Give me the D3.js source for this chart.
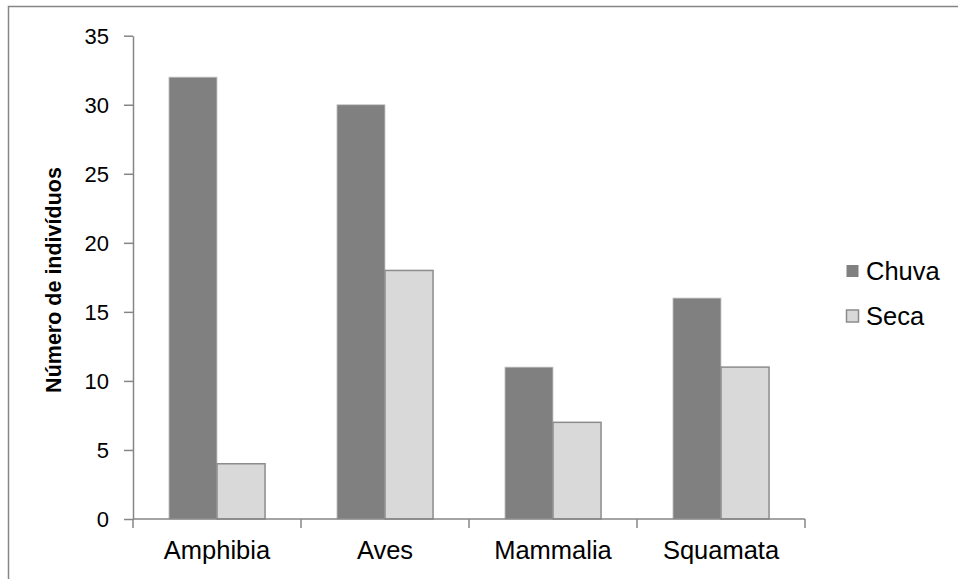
<!DOCTYPE html>
<html>
<head>
<meta charset="utf-8">
<script src="https://cdn.jsdelivr.net/npm/d3@7"></script>
<style>
  html, body { margin: 0; padding: 0; background: #fff; }
  svg { display: block; }
  text { font-family: "Liberation Sans", Arial, sans-serif; fill: #000; }
</style>
</head>
<body>
<svg id="chart" width="958" height="579"></svg>
<script>
// Number of individuals per taxonomic class, rainy vs dry season
const categories = ["Amphibia", "Aves", "Mammalia", "Squamata"];
const seriesNames = ["Chuva", "Seca"];
const chuva = [32, 30, 11, 16];
const seca = [4, 18, 7, 11];
const yTicks = [0, 5, 10, 15, 20, 25, 30, 35];
const colors = { Chuva: "#808080", Seca: "#d9d9d9" };

const svg = d3.select("#chart");
const axisColor = "#868686";

// outer frame
svg.append("rect")
  .attr("x", 8.5).attr("y", 6.5)
  .attr("width", 1000).attr("height", 1000)
  .attr("fill", "none").attr("stroke", axisColor).attr("stroke-width", 1.5);

const plot = { left: 133, right: 805, top: 35.7, bottom: 519 };

const x = d3.scaleBand().domain(categories).range([plot.left, plot.right]).paddingInner(0).paddingOuter(0);
const xInner = d3.scaleBand().domain(seriesNames).range([0, x.bandwidth()]).paddingInner(0).paddingOuter(0.748);
const y = d3.scaleLinear().domain([0, 35]).range([plot.bottom, plot.top]);

const rows = categories.map((c, i) => ({ cat: c, values: [
  { key: "Chuva", value: chuva[i] },
  { key: "Seca", value: seca[i] }
]}));

// bars
const groups = svg.append("g").selectAll("g").data(rows).join("g")
  .attr("transform", d => `translate(${x(d.cat)},0)`);
groups.selectAll("rect").data(d => d.values).join("rect")
  .attr("x", d => xInner(d.key))
  .attr("y", d => y(d.value))
  .attr("width", xInner.bandwidth())
  .attr("height", d => plot.bottom - y(d.value))
  .attr("fill", d => colors[d.key])
  .attr("stroke", d => d.key === "Seca" ? "#8c8c8c" : "#c8c8c8")
  .attr("stroke-width", d => d.key === "Seca" ? 1.5 : 0.8);

// y axis
const yAxis = svg.append("g").attr("transform", `translate(${plot.left},0)`)
  .call(d3.axisLeft(y).tickValues(yTicks).tickSize(9).tickPadding(15).tickSizeOuter(0));
yAxis.select(".domain").attr("stroke", axisColor).attr("stroke-width", 1.5);
yAxis.selectAll(".tick line").attr("stroke", axisColor).attr("stroke-width", 1.5);
yAxis.selectAll(".tick text").style("font-size", "22px").attr("font-family", null).attr("dy", "0.35em");

// x axis: ticks at category boundaries
const xAxisG = svg.append("g").attr("transform", `translate(0,${plot.bottom})`);
xAxisG.append("line")
  .attr("x1", plot.left).attr("x2", plot.right)
  .attr("stroke", axisColor).attr("stroke-width", 1.5);
const boundaries = categories.map(c => x(c)).concat([plot.right]);
xAxisG.selectAll("line.tk").data(boundaries).join("line").attr("class", "tk")
  .attr("x1", d => d).attr("x2", d => d).attr("y1", 0).attr("y2", 9)
  .attr("stroke", axisColor).attr("stroke-width", 1.5);
xAxisG.selectAll("text").data(categories).join("text")
  .attr("x", d => x(d) + x.bandwidth() / 2)
  .attr("y", 40)
  .attr("text-anchor", "middle")
  .style("font-size", "25.5px")
  .text(d => d);

// y axis title
svg.append("text")
  .attr("transform", `translate(61,280) rotate(-90)`)
  .attr("text-anchor", "middle")
  .style("font-size", "21.5px").style("font-weight", "bold")
  .text("Número de indivíduos");

// legend
const legend = svg.append("g");
const legY = [271, 316];
seriesNames.forEach((s, i) => {
  legend.append("rect")
    .attr("x", 846.5).attr("y", legY[i] - 6)
    .attr("width", 12).attr("height", 12)
    .attr("fill", colors[s])
    .attr("stroke", s === "Seca" ? "#8c8c8c" : "none").attr("stroke-width", 1.5);
  legend.append("text")
    .attr("x", 866).attr("y", legY[i])
    .attr("dy", "0.35em")
    .style("font-size", "25.5px")
    .text(s);
});
</script>
</body>
</html>
